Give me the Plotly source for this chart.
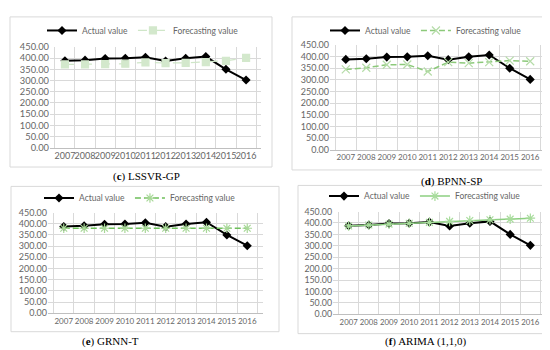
import plotly.graph_objects as go

years = ["2007", "2008", "2009", "2010", "2011", "2012", "2013", "2014", "2015", "2016"]
actual = [388, 391, 398, 399, 404, 387, 399, 407, 350, 302]
lssvr_gp = [372, 372, 373, 375, 381, 378, 379, 382, 388, 401]
bpnn_sp = [345, 352, 365, 366, 336, 376, 372, 376, 383, 380]
grnn_t = [380, 380, 380, 380, 380, 380, 380, 380, 380, 380]
arima = [387, 391, 395, 399, 403, 407, 411, 414, 417, 421]
y_ticks = [0, 50, 100, 150, 200, 250, 300, 350, 400, 450]
captions = ["(<b>c</b>) LSSVR-GP", "(<b>d</b>) BPNN-SP", "(<b>e</b>) GRNN-T", "(<b>f</b>) ARIMA (1,1,0)"]

W, H = 550, 350
def px(x):
    return x / W
def py(y):
    return 1 - y / H

panels = [
    dict(plot=(42, 253, 34, 138), box=(2, 264, 3, 158), leg=(135, 17), cap=(138, 168), tf=9.0, yf=9.3,
         fc=lssvr_gp, color="#cfe6c8", mcolor="#d3e8cc", dash="dash", sym="square", msize=7, lw=1.2),
    dict(plot=(322, 538, 32, 140), box=(284, 546, 3, 161), leg=(418, 17), cap=(443, 173), tf=8.0, yf=9.0,
         fc=bpnn_sp, color="#8cc97a", mcolor="#b5dca8", dash="6px,3px", sym="x-thin-open", msize=8, lw=1.5),
    dict(plot=(40, 255, 205, 309), box=(3, 271, 178, 328), leg=(132, 190), cap=(102, 338), tf=8.0, yf=9.0,
         fc=grnn_t, color="#6dbf5a", mcolor="#a8d898", dash="6px,3px", sym="asterisk-open", msize=8, lw=1.5),
    dict(plot=(325, 538, 204, 310), box=(290, 546, 177, 330), leg=(417, 188), cap=(418, 338), tf=7.8, yf=8.8,
         fc=arima, color="#8ccf80", mcolor="#a8dc9c", dash="solid", sym="asterisk-open", msize=8, lw=1.5),
]

fig = go.Figure()
layout = dict(
    width=W, height=H, margin=dict(l=0, r=0, t=0, b=0),
    paper_bgcolor="white", plot_bgcolor="white", showlegend=True,
    font=dict(family="Lato", color="#595959"),
)
shapes = []
annotations = []
for i, p in enumerate(panels):
    n = "" if i == 0 else str(i + 1)
    leg = "legend" if i == 0 else "legend" + str(i + 1)
    xa, ya = "x" + n, "y" + n
    fig.add_trace(go.Scatter(
        x=years, y=actual, name="Actual value", mode="lines+markers",
        line=dict(color="black", width=2), marker=dict(symbol="diamond", size=7, color="black"),
        xaxis=xa, yaxis=ya, legend=leg))
    fig.add_trace(go.Scatter(
        x=years, y=p["fc"], name="Forecasting value", mode="lines+markers",
        line=dict(color=p["color"], width=p["lw"], dash=p["dash"]),
        marker=dict(symbol=p["sym"], size=p["msize"], color=p["mcolor"],
                    line=dict(color=p["mcolor"], width=1.2)),
        xaxis=xa, yaxis=ya, legend=leg))
    x0, x1, yt, yb = p["plot"]
    layout["xaxis" + n] = dict(
        domain=[px(x0), px(x1)], anchor=ya, type="category", tickson="boundaries",
        showgrid=True, gridcolor="#d9d9d9", gridwidth=1, showline=True, linecolor="#bfbfbf",
        ticks="", tickangle=0, tickfont=dict(size=p["tf"], color="#666666"), fixedrange=True)
    layout["yaxis" + n] = dict(
        domain=[py(yb), py(yt)], anchor=xa, range=[0, 450], tickvals=y_ticks, tickformat=".2f",
        showgrid=True, gridcolor="#d9d9d9", gridwidth=1, zeroline=False, showline=False,
        ticks="", tickfont=dict(size=p["yf"], color="#666666"), fixedrange=True)
    layout[leg] = dict(
        orientation="h", x=px(p["leg"][0]), y=py(p["leg"][1]), xanchor="center", yanchor="middle",
        font=dict(size=8.5, color="#666666"), bgcolor="rgba(0,0,0,0)", itemwidth=30,
        tracegroupgap=0)
    bx0, bx1, by0, by1 = p["box"]
    shapes.append(dict(type="rect", xref="paper", yref="paper", x0=px(bx0), x1=px(bx1),
                       y0=py(by1), y1=py(by0), line=dict(color="#d9d9d9", width=1)))
    annotations.append(dict(text=captions[i], xref="paper", yref="paper", x=px(p["cap"][0]),
                            y=py(p["cap"][1]), showarrow=False, xanchor="center", yanchor="middle",
                            font=dict(family="Liberation Serif", size=11, color="black")))

layout["shapes"] = shapes
layout["annotations"] = annotations
fig.update_layout(**layout)
fig.write_html("out.html")
